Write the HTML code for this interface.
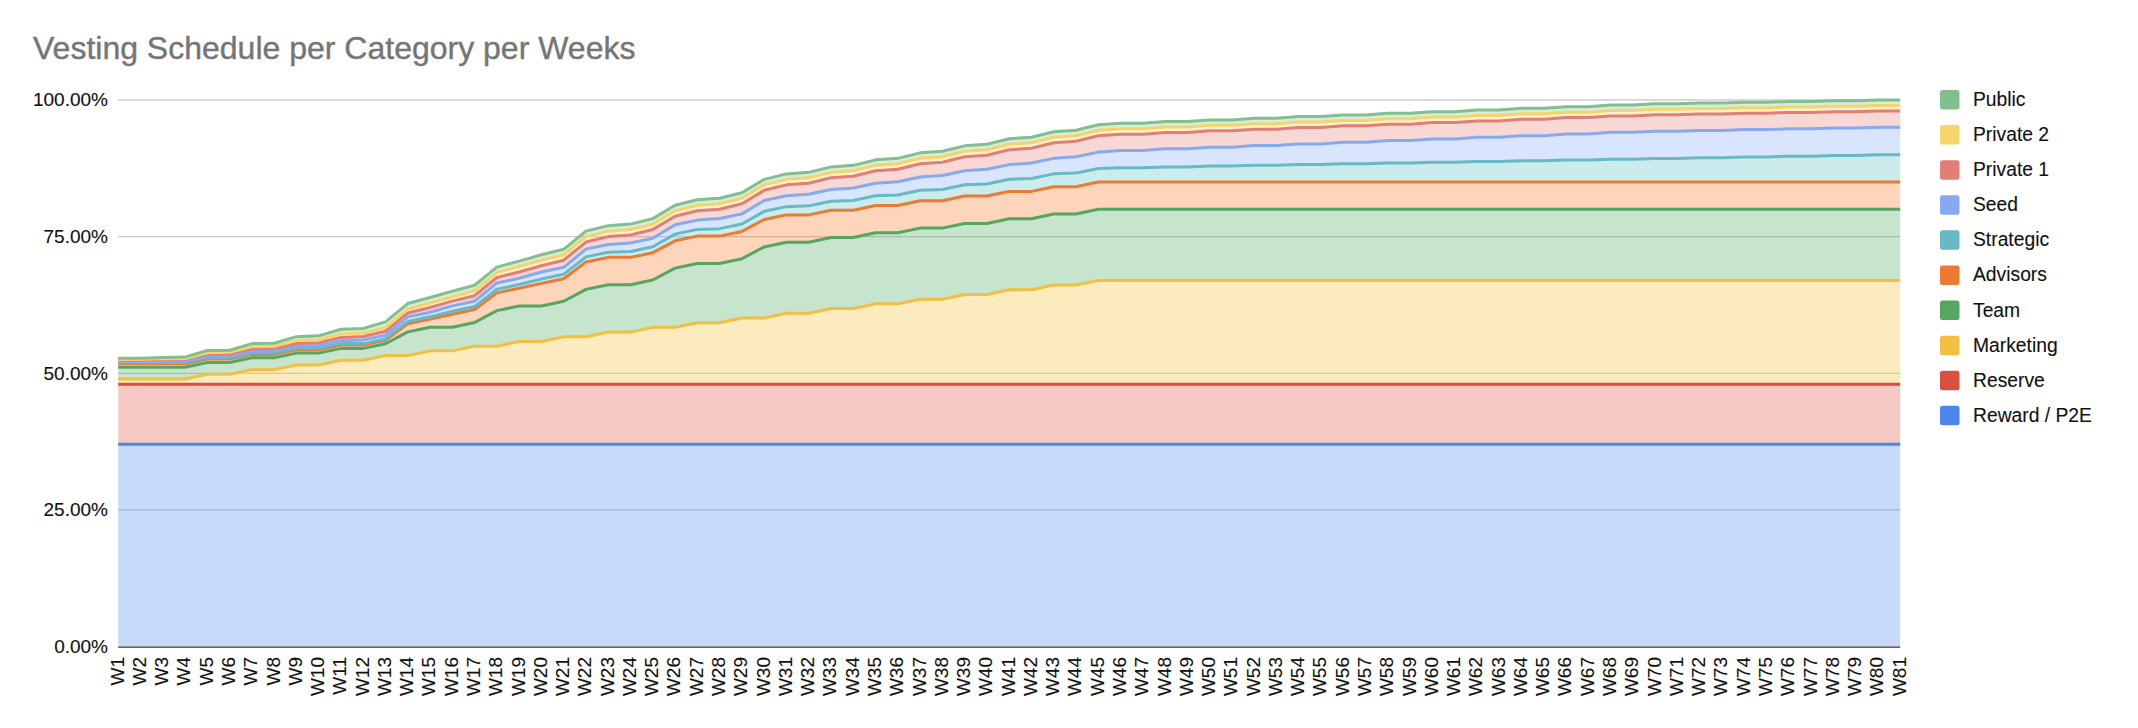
<!DOCTYPE html>
<html><head><meta charset="utf-8"><style>
html,body{margin:0;padding:0;background:#fff;}
body{width:2138px;height:728px;overflow:hidden;position:relative;font-family:"Liberation Sans",sans-serif;}
svg{position:absolute;left:0;top:0;}
.ax{font-family:"Liberation Sans",sans-serif;font-size:19px;fill:#111111;stroke:#111111;stroke-width:0.12px;}
.lg{font-family:"Liberation Sans",sans-serif;font-size:19.3px;fill:#111111;stroke:#111111;stroke-width:0.12px;}
.ttl{font-family:"Liberation Sans",sans-serif;font-size:32px;fill:#757575;stroke:#757575;stroke-width:0.4px;}
</style></head><body>
<svg width="2138" height="728" viewBox="0 0 2138 728">
<text x="33" y="59" class="ttl">Vesting Schedule per Category per Weeks</text>
<line x1="118.2" y1="509.95" x2="1900.2" y2="509.95" stroke="#cccccc" stroke-width="1.3"/>
<line x1="118.2" y1="373.30" x2="1900.2" y2="373.30" stroke="#cccccc" stroke-width="1.3"/>
<line x1="118.2" y1="236.65" x2="1900.2" y2="236.65" stroke="#cccccc" stroke-width="1.3"/>
<line x1="118.2" y1="100.00" x2="1900.2" y2="100.00" stroke="#cccccc" stroke-width="1.3"/>
<path d="M118.20,444.36 L140.47,444.36 L162.75,444.36 L185.03,444.36 L207.30,444.36 L229.57,444.36 L251.85,444.36 L274.12,444.36 L296.40,444.36 L318.68,444.36 L340.95,444.36 L363.23,444.36 L385.50,444.36 L407.77,444.36 L430.05,444.36 L452.32,444.36 L474.60,444.36 L496.88,444.36 L519.15,444.36 L541.43,444.36 L563.70,444.36 L585.98,444.36 L608.25,444.36 L630.53,444.36 L652.80,444.36 L675.08,444.36 L697.35,444.36 L719.62,444.36 L741.90,444.36 L764.18,444.36 L786.45,444.36 L808.73,444.36 L831.00,444.36 L853.28,444.36 L875.55,444.36 L897.83,444.36 L920.10,444.36 L942.38,444.36 L964.65,444.36 L986.93,444.36 L1009.20,444.36 L1031.47,444.36 L1053.75,444.36 L1076.03,444.36 L1098.30,444.36 L1120.58,444.36 L1142.85,444.36 L1165.12,444.36 L1187.40,444.36 L1209.67,444.36 L1231.95,444.36 L1254.23,444.36 L1276.50,444.36 L1298.78,444.36 L1321.05,444.36 L1343.33,444.36 L1365.60,444.36 L1387.88,444.36 L1410.15,444.36 L1432.42,444.36 L1454.70,444.36 L1476.98,444.36 L1499.25,444.36 L1521.53,444.36 L1543.80,444.36 L1566.08,444.36 L1588.35,444.36 L1610.62,444.36 L1632.90,444.36 L1655.17,444.36 L1677.45,444.36 L1699.73,444.36 L1722.00,444.36 L1744.28,444.36 L1766.55,444.36 L1788.83,444.36 L1811.10,444.36 L1833.38,444.36 L1855.65,444.36 L1877.92,444.36 L1900.20,444.36 L1900.20,646.60 L1877.92,646.60 L1855.65,646.60 L1833.38,646.60 L1811.10,646.60 L1788.83,646.60 L1766.55,646.60 L1744.28,646.60 L1722.00,646.60 L1699.73,646.60 L1677.45,646.60 L1655.17,646.60 L1632.90,646.60 L1610.62,646.60 L1588.35,646.60 L1566.08,646.60 L1543.80,646.60 L1521.53,646.60 L1499.25,646.60 L1476.98,646.60 L1454.70,646.60 L1432.42,646.60 L1410.15,646.60 L1387.88,646.60 L1365.60,646.60 L1343.33,646.60 L1321.05,646.60 L1298.78,646.60 L1276.50,646.60 L1254.23,646.60 L1231.95,646.60 L1209.67,646.60 L1187.40,646.60 L1165.12,646.60 L1142.85,646.60 L1120.58,646.60 L1098.30,646.60 L1076.03,646.60 L1053.75,646.60 L1031.47,646.60 L1009.20,646.60 L986.93,646.60 L964.65,646.60 L942.38,646.60 L920.10,646.60 L897.83,646.60 L875.55,646.60 L853.28,646.60 L831.00,646.60 L808.73,646.60 L786.45,646.60 L764.18,646.60 L741.90,646.60 L719.62,646.60 L697.35,646.60 L675.08,646.60 L652.80,646.60 L630.53,646.60 L608.25,646.60 L585.98,646.60 L563.70,646.60 L541.43,646.60 L519.15,646.60 L496.88,646.60 L474.60,646.60 L452.32,646.60 L430.05,646.60 L407.77,646.60 L385.50,646.60 L363.23,646.60 L340.95,646.60 L318.68,646.60 L296.40,646.60 L274.12,646.60 L251.85,646.60 L229.57,646.60 L207.30,646.60 L185.03,646.60 L162.75,646.60 L140.47,646.60 L118.20,646.60 Z" fill="#4884ef" fill-opacity="0.3"/>
<path d="M118.20,384.23 L140.47,384.23 L162.75,384.23 L185.03,384.23 L207.30,384.23 L229.57,384.23 L251.85,384.23 L274.12,384.23 L296.40,384.23 L318.68,384.23 L340.95,384.23 L363.23,384.23 L385.50,384.23 L407.77,384.23 L430.05,384.23 L452.32,384.23 L474.60,384.23 L496.88,384.23 L519.15,384.23 L541.43,384.23 L563.70,384.23 L585.98,384.23 L608.25,384.23 L630.53,384.23 L652.80,384.23 L675.08,384.23 L697.35,384.23 L719.62,384.23 L741.90,384.23 L764.18,384.23 L786.45,384.23 L808.73,384.23 L831.00,384.23 L853.28,384.23 L875.55,384.23 L897.83,384.23 L920.10,384.23 L942.38,384.23 L964.65,384.23 L986.93,384.23 L1009.20,384.23 L1031.47,384.23 L1053.75,384.23 L1076.03,384.23 L1098.30,384.23 L1120.58,384.23 L1142.85,384.23 L1165.12,384.23 L1187.40,384.23 L1209.67,384.23 L1231.95,384.23 L1254.23,384.23 L1276.50,384.23 L1298.78,384.23 L1321.05,384.23 L1343.33,384.23 L1365.60,384.23 L1387.88,384.23 L1410.15,384.23 L1432.42,384.23 L1454.70,384.23 L1476.98,384.23 L1499.25,384.23 L1521.53,384.23 L1543.80,384.23 L1566.08,384.23 L1588.35,384.23 L1610.62,384.23 L1632.90,384.23 L1655.17,384.23 L1677.45,384.23 L1699.73,384.23 L1722.00,384.23 L1744.28,384.23 L1766.55,384.23 L1788.83,384.23 L1811.10,384.23 L1833.38,384.23 L1855.65,384.23 L1877.92,384.23 L1900.20,384.23 L1900.20,444.36 L1877.92,444.36 L1855.65,444.36 L1833.38,444.36 L1811.10,444.36 L1788.83,444.36 L1766.55,444.36 L1744.28,444.36 L1722.00,444.36 L1699.73,444.36 L1677.45,444.36 L1655.17,444.36 L1632.90,444.36 L1610.62,444.36 L1588.35,444.36 L1566.08,444.36 L1543.80,444.36 L1521.53,444.36 L1499.25,444.36 L1476.98,444.36 L1454.70,444.36 L1432.42,444.36 L1410.15,444.36 L1387.88,444.36 L1365.60,444.36 L1343.33,444.36 L1321.05,444.36 L1298.78,444.36 L1276.50,444.36 L1254.23,444.36 L1231.95,444.36 L1209.67,444.36 L1187.40,444.36 L1165.12,444.36 L1142.85,444.36 L1120.58,444.36 L1098.30,444.36 L1076.03,444.36 L1053.75,444.36 L1031.47,444.36 L1009.20,444.36 L986.93,444.36 L964.65,444.36 L942.38,444.36 L920.10,444.36 L897.83,444.36 L875.55,444.36 L853.28,444.36 L831.00,444.36 L808.73,444.36 L786.45,444.36 L764.18,444.36 L741.90,444.36 L719.62,444.36 L697.35,444.36 L675.08,444.36 L652.80,444.36 L630.53,444.36 L608.25,444.36 L585.98,444.36 L563.70,444.36 L541.43,444.36 L519.15,444.36 L496.88,444.36 L474.60,444.36 L452.32,444.36 L430.05,444.36 L407.77,444.36 L385.50,444.36 L363.23,444.36 L340.95,444.36 L318.68,444.36 L296.40,444.36 L274.12,444.36 L251.85,444.36 L229.57,444.36 L207.30,444.36 L185.03,444.36 L162.75,444.36 L140.47,444.36 L118.20,444.36 Z" fill="#e14a3a" fill-opacity="0.3"/>
<path d="M118.20,379.04 L140.47,379.04 L162.75,379.04 L185.03,379.04 L207.30,374.34 L229.57,374.34 L251.85,369.64 L274.12,369.64 L296.40,364.94 L318.68,364.94 L340.95,360.25 L363.23,360.25 L385.50,355.55 L407.77,355.55 L430.05,350.85 L452.32,350.85 L474.60,346.15 L496.88,346.15 L519.15,341.45 L541.43,341.45 L563.70,336.76 L585.98,336.76 L608.25,332.06 L630.53,332.06 L652.80,327.36 L675.08,327.36 L697.35,322.66 L719.62,322.66 L741.90,317.96 L764.18,317.96 L786.45,313.27 L808.73,313.27 L831.00,308.57 L853.28,308.57 L875.55,303.87 L897.83,303.87 L920.10,299.17 L942.38,299.17 L964.65,294.47 L986.93,294.47 L1009.20,289.77 L1031.47,289.77 L1053.75,285.08 L1076.03,285.08 L1098.30,280.38 L1120.58,280.38 L1142.85,280.38 L1165.12,280.38 L1187.40,280.38 L1209.67,280.38 L1231.95,280.38 L1254.23,280.38 L1276.50,280.38 L1298.78,280.38 L1321.05,280.38 L1343.33,280.38 L1365.60,280.38 L1387.88,280.38 L1410.15,280.38 L1432.42,280.38 L1454.70,280.38 L1476.98,280.38 L1499.25,280.38 L1521.53,280.38 L1543.80,280.38 L1566.08,280.38 L1588.35,280.38 L1610.62,280.38 L1632.90,280.38 L1655.17,280.38 L1677.45,280.38 L1699.73,280.38 L1722.00,280.38 L1744.28,280.38 L1766.55,280.38 L1788.83,280.38 L1811.10,280.38 L1833.38,280.38 L1855.65,280.38 L1877.92,280.38 L1900.20,280.38 L1900.20,384.23 L1877.92,384.23 L1855.65,384.23 L1833.38,384.23 L1811.10,384.23 L1788.83,384.23 L1766.55,384.23 L1744.28,384.23 L1722.00,384.23 L1699.73,384.23 L1677.45,384.23 L1655.17,384.23 L1632.90,384.23 L1610.62,384.23 L1588.35,384.23 L1566.08,384.23 L1543.80,384.23 L1521.53,384.23 L1499.25,384.23 L1476.98,384.23 L1454.70,384.23 L1432.42,384.23 L1410.15,384.23 L1387.88,384.23 L1365.60,384.23 L1343.33,384.23 L1321.05,384.23 L1298.78,384.23 L1276.50,384.23 L1254.23,384.23 L1231.95,384.23 L1209.67,384.23 L1187.40,384.23 L1165.12,384.23 L1142.85,384.23 L1120.58,384.23 L1098.30,384.23 L1076.03,384.23 L1053.75,384.23 L1031.47,384.23 L1009.20,384.23 L986.93,384.23 L964.65,384.23 L942.38,384.23 L920.10,384.23 L897.83,384.23 L875.55,384.23 L853.28,384.23 L831.00,384.23 L808.73,384.23 L786.45,384.23 L764.18,384.23 L741.90,384.23 L719.62,384.23 L697.35,384.23 L675.08,384.23 L652.80,384.23 L630.53,384.23 L608.25,384.23 L585.98,384.23 L563.70,384.23 L541.43,384.23 L519.15,384.23 L496.88,384.23 L474.60,384.23 L452.32,384.23 L430.05,384.23 L407.77,384.23 L385.50,384.23 L363.23,384.23 L340.95,384.23 L318.68,384.23 L296.40,384.23 L274.12,384.23 L251.85,384.23 L229.57,384.23 L207.30,384.23 L185.03,384.23 L162.75,384.23 L140.47,384.23 L118.20,384.23 Z" fill="#f6be23" fill-opacity="0.3"/>
<path d="M118.20,367.20 L140.47,367.20 L162.75,367.20 L185.03,367.20 L207.30,362.50 L229.57,362.50 L251.85,357.80 L274.12,357.80 L296.40,353.10 L318.68,353.10 L340.95,348.40 L363.23,348.40 L385.50,343.71 L407.77,331.86 L430.05,327.16 L452.32,327.16 L474.60,322.47 L496.88,310.62 L519.15,305.93 L541.43,305.93 L563.70,301.23 L585.98,289.38 L608.25,284.69 L630.53,284.69 L652.80,279.99 L675.08,268.14 L697.35,263.45 L719.62,263.45 L741.90,258.75 L764.18,246.91 L786.45,242.21 L808.73,242.21 L831.00,237.51 L853.28,237.51 L875.55,232.81 L897.83,232.81 L920.10,228.11 L942.38,228.11 L964.65,223.41 L986.93,223.41 L1009.20,218.72 L1031.47,218.72 L1053.75,214.02 L1076.03,214.02 L1098.30,209.32 L1120.58,209.32 L1142.85,209.32 L1165.12,209.32 L1187.40,209.32 L1209.67,209.32 L1231.95,209.32 L1254.23,209.32 L1276.50,209.32 L1298.78,209.32 L1321.05,209.32 L1343.33,209.32 L1365.60,209.32 L1387.88,209.32 L1410.15,209.32 L1432.42,209.32 L1454.70,209.32 L1476.98,209.32 L1499.25,209.32 L1521.53,209.32 L1543.80,209.32 L1566.08,209.32 L1588.35,209.32 L1610.62,209.32 L1632.90,209.32 L1655.17,209.32 L1677.45,209.32 L1699.73,209.32 L1722.00,209.32 L1744.28,209.32 L1766.55,209.32 L1788.83,209.32 L1811.10,209.32 L1833.38,209.32 L1855.65,209.32 L1877.92,209.32 L1900.20,209.32 L1900.20,280.38 L1877.92,280.38 L1855.65,280.38 L1833.38,280.38 L1811.10,280.38 L1788.83,280.38 L1766.55,280.38 L1744.28,280.38 L1722.00,280.38 L1699.73,280.38 L1677.45,280.38 L1655.17,280.38 L1632.90,280.38 L1610.62,280.38 L1588.35,280.38 L1566.08,280.38 L1543.80,280.38 L1521.53,280.38 L1499.25,280.38 L1476.98,280.38 L1454.70,280.38 L1432.42,280.38 L1410.15,280.38 L1387.88,280.38 L1365.60,280.38 L1343.33,280.38 L1321.05,280.38 L1298.78,280.38 L1276.50,280.38 L1254.23,280.38 L1231.95,280.38 L1209.67,280.38 L1187.40,280.38 L1165.12,280.38 L1142.85,280.38 L1120.58,280.38 L1098.30,280.38 L1076.03,285.08 L1053.75,285.08 L1031.47,289.77 L1009.20,289.77 L986.93,294.47 L964.65,294.47 L942.38,299.17 L920.10,299.17 L897.83,303.87 L875.55,303.87 L853.28,308.57 L831.00,308.57 L808.73,313.27 L786.45,313.27 L764.18,317.96 L741.90,317.96 L719.62,322.66 L697.35,322.66 L675.08,327.36 L652.80,327.36 L630.53,332.06 L608.25,332.06 L585.98,336.76 L563.70,336.76 L541.43,341.45 L519.15,341.45 L496.88,346.15 L474.60,346.15 L452.32,350.85 L430.05,350.85 L407.77,355.55 L385.50,355.55 L363.23,360.25 L340.95,360.25 L318.68,364.94 L296.40,364.94 L274.12,369.64 L251.85,369.64 L229.57,374.34 L207.30,374.34 L185.03,379.04 L162.75,379.04 L140.47,379.04 L118.20,379.04 Z" fill="#45a65a" fill-opacity="0.3"/>
<path d="M118.20,363.78 L140.47,363.78 L162.75,363.78 L185.03,363.78 L207.30,359.08 L229.57,359.08 L251.85,354.38 L274.12,354.38 L296.40,349.69 L318.68,349.69 L340.95,344.99 L363.23,344.99 L385.50,340.29 L407.77,323.66 L430.05,318.97 L452.32,314.18 L474.60,309.48 L496.88,292.86 L519.15,288.16 L541.43,283.38 L563.70,278.68 L585.98,262.05 L608.25,257.36 L630.53,257.36 L652.80,252.66 L675.08,240.81 L697.35,236.12 L719.62,236.12 L741.90,231.42 L764.18,219.58 L786.45,214.88 L808.73,214.88 L831.00,210.18 L853.28,210.18 L875.55,205.48 L897.83,205.48 L920.10,200.78 L942.38,200.78 L964.65,196.08 L986.93,196.08 L1009.20,191.39 L1031.47,191.39 L1053.75,186.69 L1076.03,186.69 L1098.30,181.99 L1120.58,181.99 L1142.85,181.99 L1165.12,181.99 L1187.40,181.99 L1209.67,181.99 L1231.95,181.99 L1254.23,181.99 L1276.50,181.99 L1298.78,181.99 L1321.05,181.99 L1343.33,181.99 L1365.60,181.99 L1387.88,181.99 L1410.15,181.99 L1432.42,181.99 L1454.70,181.99 L1476.98,181.99 L1499.25,181.99 L1521.53,181.99 L1543.80,181.99 L1566.08,181.99 L1588.35,181.99 L1610.62,181.99 L1632.90,181.99 L1655.17,181.99 L1677.45,181.99 L1699.73,181.99 L1722.00,181.99 L1744.28,181.99 L1766.55,181.99 L1788.83,181.99 L1811.10,181.99 L1833.38,181.99 L1855.65,181.99 L1877.92,181.99 L1900.20,181.99 L1900.20,209.32 L1877.92,209.32 L1855.65,209.32 L1833.38,209.32 L1811.10,209.32 L1788.83,209.32 L1766.55,209.32 L1744.28,209.32 L1722.00,209.32 L1699.73,209.32 L1677.45,209.32 L1655.17,209.32 L1632.90,209.32 L1610.62,209.32 L1588.35,209.32 L1566.08,209.32 L1543.80,209.32 L1521.53,209.32 L1499.25,209.32 L1476.98,209.32 L1454.70,209.32 L1432.42,209.32 L1410.15,209.32 L1387.88,209.32 L1365.60,209.32 L1343.33,209.32 L1321.05,209.32 L1298.78,209.32 L1276.50,209.32 L1254.23,209.32 L1231.95,209.32 L1209.67,209.32 L1187.40,209.32 L1165.12,209.32 L1142.85,209.32 L1120.58,209.32 L1098.30,209.32 L1076.03,214.02 L1053.75,214.02 L1031.47,218.72 L1009.20,218.72 L986.93,223.41 L964.65,223.41 L942.38,228.11 L920.10,228.11 L897.83,232.81 L875.55,232.81 L853.28,237.51 L831.00,237.51 L808.73,242.21 L786.45,242.21 L764.18,246.91 L741.90,258.75 L719.62,263.45 L697.35,263.45 L675.08,268.14 L652.80,279.99 L630.53,284.69 L608.25,284.69 L585.98,289.38 L563.70,301.23 L541.43,305.93 L519.15,305.93 L496.88,310.62 L474.60,322.47 L452.32,327.16 L430.05,327.16 L407.77,331.86 L385.50,343.71 L363.23,348.40 L340.95,348.40 L318.68,353.10 L296.40,353.10 L274.12,357.80 L251.85,357.80 L229.57,362.50 L207.30,362.50 L185.03,367.20 L162.75,367.20 L140.47,367.20 L118.20,367.20 Z" fill="#f6741a" fill-opacity="0.3"/>
<path d="M118.20,362.41 L140.47,362.41 L162.75,362.41 L185.03,362.41 L207.30,357.72 L229.57,357.72 L251.85,353.02 L274.12,353.02 L296.40,348.32 L318.68,348.32 L340.95,343.62 L363.23,343.62 L385.50,338.92 L407.77,321.53 L430.05,316.84 L452.32,311.29 L474.60,306.59 L496.88,289.20 L519.15,284.50 L541.43,278.96 L563.70,274.26 L585.98,256.87 L608.25,252.17 L630.53,251.41 L652.80,246.71 L675.08,234.10 L697.35,229.40 L719.62,228.64 L741.90,223.94 L764.18,211.34 L786.45,206.64 L808.73,205.87 L831.00,201.18 L853.28,200.41 L875.55,195.71 L897.83,194.95 L920.10,190.25 L942.38,189.49 L964.65,184.79 L986.93,184.03 L1009.20,179.33 L1031.47,178.57 L1053.75,173.87 L1076.03,173.10 L1098.30,168.41 L1120.58,167.64 L1142.85,167.64 L1165.12,166.88 L1187.40,166.88 L1209.67,166.11 L1231.95,166.11 L1254.23,165.35 L1276.50,165.35 L1298.78,164.59 L1321.05,164.59 L1343.33,163.82 L1365.60,163.82 L1387.88,163.06 L1410.15,163.06 L1432.42,162.30 L1454.70,162.30 L1476.98,161.53 L1499.25,161.53 L1521.53,160.77 L1543.80,160.77 L1566.08,160.01 L1588.35,160.01 L1610.62,159.24 L1632.90,159.24 L1655.17,158.48 L1677.45,158.48 L1699.73,157.71 L1722.00,157.71 L1744.28,156.95 L1766.55,156.95 L1788.83,156.19 L1811.10,156.19 L1833.38,155.42 L1855.65,155.42 L1877.92,154.66 L1900.20,154.66 L1900.20,181.99 L1877.92,181.99 L1855.65,181.99 L1833.38,181.99 L1811.10,181.99 L1788.83,181.99 L1766.55,181.99 L1744.28,181.99 L1722.00,181.99 L1699.73,181.99 L1677.45,181.99 L1655.17,181.99 L1632.90,181.99 L1610.62,181.99 L1588.35,181.99 L1566.08,181.99 L1543.80,181.99 L1521.53,181.99 L1499.25,181.99 L1476.98,181.99 L1454.70,181.99 L1432.42,181.99 L1410.15,181.99 L1387.88,181.99 L1365.60,181.99 L1343.33,181.99 L1321.05,181.99 L1298.78,181.99 L1276.50,181.99 L1254.23,181.99 L1231.95,181.99 L1209.67,181.99 L1187.40,181.99 L1165.12,181.99 L1142.85,181.99 L1120.58,181.99 L1098.30,181.99 L1076.03,186.69 L1053.75,186.69 L1031.47,191.39 L1009.20,191.39 L986.93,196.08 L964.65,196.08 L942.38,200.78 L920.10,200.78 L897.83,205.48 L875.55,205.48 L853.28,210.18 L831.00,210.18 L808.73,214.88 L786.45,214.88 L764.18,219.58 L741.90,231.42 L719.62,236.12 L697.35,236.12 L675.08,240.81 L652.80,252.66 L630.53,257.36 L608.25,257.36 L585.98,262.05 L563.70,278.68 L541.43,283.38 L519.15,288.16 L496.88,292.86 L474.60,309.48 L452.32,314.18 L430.05,318.97 L407.77,323.66 L385.50,340.29 L363.23,344.99 L340.95,344.99 L318.68,349.69 L296.40,349.69 L274.12,354.38 L251.85,354.38 L229.57,359.08 L207.30,359.08 L185.03,363.78 L162.75,363.78 L140.47,363.78 L118.20,363.78 Z" fill="#56bcc5" fill-opacity="0.3"/>
<path d="M118.20,361.59 L140.47,361.41 L162.75,361.41 L185.03,361.05 L207.30,356.36 L229.57,356.00 L251.85,351.30 L274.12,350.94 L296.40,346.24 L318.68,345.42 L340.95,340.72 L363.23,339.90 L385.50,335.21 L407.77,316.89 L430.05,312.19 L452.32,305.87 L474.60,301.17 L496.88,283.00 L519.15,278.31 L541.43,271.98 L563.70,267.29 L585.98,249.12 L608.25,244.42 L630.53,242.88 L652.80,238.18 L675.08,224.80 L697.35,220.10 L719.62,218.56 L741.90,213.87 L764.18,200.48 L786.45,195.79 L808.73,194.25 L831.00,189.55 L853.28,188.01 L875.55,183.31 L897.83,181.77 L920.10,177.07 L942.38,175.53 L964.65,170.83 L986.93,169.30 L1009.20,164.60 L1031.47,163.06 L1053.75,158.36 L1076.03,156.82 L1098.30,152.12 L1120.58,150.53 L1142.85,150.53 L1165.12,148.87 L1187.40,148.87 L1209.67,147.22 L1231.95,147.22 L1254.23,145.57 L1276.50,145.57 L1298.78,143.92 L1321.05,143.92 L1343.33,142.27 L1365.60,142.27 L1387.88,140.62 L1410.15,140.62 L1432.42,138.96 L1454.70,138.96 L1476.98,137.31 L1499.25,137.31 L1521.53,135.66 L1543.80,135.66 L1566.08,134.01 L1588.35,134.01 L1610.62,132.36 L1632.90,132.36 L1655.17,131.15 L1677.45,131.15 L1699.73,130.38 L1722.00,130.38 L1744.28,129.62 L1766.55,129.62 L1788.83,128.86 L1811.10,128.86 L1833.38,128.09 L1855.65,128.09 L1877.92,127.33 L1900.20,127.33 L1900.20,154.66 L1877.92,154.66 L1855.65,155.42 L1833.38,155.42 L1811.10,156.19 L1788.83,156.19 L1766.55,156.95 L1744.28,156.95 L1722.00,157.71 L1699.73,157.71 L1677.45,158.48 L1655.17,158.48 L1632.90,159.24 L1610.62,159.24 L1588.35,160.01 L1566.08,160.01 L1543.80,160.77 L1521.53,160.77 L1499.25,161.53 L1476.98,161.53 L1454.70,162.30 L1432.42,162.30 L1410.15,163.06 L1387.88,163.06 L1365.60,163.82 L1343.33,163.82 L1321.05,164.59 L1298.78,164.59 L1276.50,165.35 L1254.23,165.35 L1231.95,166.11 L1209.67,166.11 L1187.40,166.88 L1165.12,166.88 L1142.85,167.64 L1120.58,167.64 L1098.30,168.41 L1076.03,173.10 L1053.75,173.87 L1031.47,178.57 L1009.20,179.33 L986.93,184.03 L964.65,184.79 L942.38,189.49 L920.10,190.25 L897.83,194.95 L875.55,195.71 L853.28,200.41 L831.00,201.18 L808.73,205.87 L786.45,206.64 L764.18,211.34 L741.90,223.94 L719.62,228.64 L697.35,229.40 L675.08,234.10 L652.80,246.71 L630.53,251.41 L608.25,252.17 L585.98,256.87 L563.70,274.26 L541.43,278.96 L519.15,284.50 L496.88,289.20 L474.60,306.59 L452.32,311.29 L430.05,316.84 L407.77,321.53 L385.50,338.92 L363.23,343.62 L340.95,343.62 L318.68,348.32 L296.40,348.32 L274.12,353.02 L251.85,353.02 L229.57,357.72 L207.30,357.72 L185.03,362.41 L162.75,362.41 L140.47,362.41 L118.20,362.41 Z" fill="#81a9f5" fill-opacity="0.3"/>
<path d="M118.20,359.95 L140.47,359.77 L162.75,359.50 L185.03,359.14 L207.30,354.17 L229.57,353.81 L251.85,348.84 L274.12,348.48 L296.40,343.51 L318.68,342.69 L340.95,337.39 L363.23,336.57 L385.50,331.27 L407.77,312.95 L430.05,307.47 L452.32,301.15 L474.60,295.68 L496.88,277.51 L519.15,272.03 L541.43,265.71 L563.70,260.23 L585.98,242.07 L608.25,236.59 L630.53,235.05 L652.80,229.58 L675.08,216.19 L697.35,210.72 L719.62,209.18 L741.90,203.70 L764.18,190.32 L786.45,184.84 L808.73,183.30 L831.00,177.82 L853.28,176.28 L875.55,170.81 L897.83,169.27 L920.10,163.79 L942.38,162.25 L964.65,156.77 L986.93,155.23 L1009.20,149.76 L1031.47,148.22 L1053.75,142.74 L1076.03,141.20 L1098.30,135.72 L1120.58,134.13 L1142.85,134.13 L1165.12,132.48 L1187.40,132.48 L1209.67,130.82 L1231.95,130.82 L1254.23,129.17 L1276.50,129.17 L1298.78,127.52 L1321.05,127.52 L1343.33,125.87 L1365.60,125.87 L1387.88,124.22 L1410.15,124.22 L1432.42,122.57 L1454.70,122.57 L1476.98,120.91 L1499.25,120.91 L1521.53,119.26 L1543.80,119.26 L1566.08,117.61 L1588.35,117.61 L1610.62,115.96 L1632.90,115.96 L1655.17,114.75 L1677.45,114.75 L1699.73,113.99 L1722.00,113.99 L1744.28,113.22 L1766.55,113.22 L1788.83,112.46 L1811.10,112.46 L1833.38,111.70 L1855.65,111.70 L1877.92,110.93 L1900.20,110.93 L1900.20,127.33 L1877.92,127.33 L1855.65,128.09 L1833.38,128.09 L1811.10,128.86 L1788.83,128.86 L1766.55,129.62 L1744.28,129.62 L1722.00,130.38 L1699.73,130.38 L1677.45,131.15 L1655.17,131.15 L1632.90,132.36 L1610.62,132.36 L1588.35,134.01 L1566.08,134.01 L1543.80,135.66 L1521.53,135.66 L1499.25,137.31 L1476.98,137.31 L1454.70,138.96 L1432.42,138.96 L1410.15,140.62 L1387.88,140.62 L1365.60,142.27 L1343.33,142.27 L1321.05,143.92 L1298.78,143.92 L1276.50,145.57 L1254.23,145.57 L1231.95,147.22 L1209.67,147.22 L1187.40,148.87 L1165.12,148.87 L1142.85,150.53 L1120.58,150.53 L1098.30,152.12 L1076.03,156.82 L1053.75,158.36 L1031.47,163.06 L1009.20,164.60 L986.93,169.30 L964.65,170.83 L942.38,175.53 L920.10,177.07 L897.83,181.77 L875.55,183.31 L853.28,188.01 L831.00,189.55 L808.73,194.25 L786.45,195.79 L764.18,200.48 L741.90,213.87 L719.62,218.56 L697.35,220.10 L675.08,224.80 L652.80,238.18 L630.53,242.88 L608.25,244.42 L585.98,249.12 L563.70,267.29 L541.43,271.98 L519.15,278.31 L496.88,283.00 L474.60,301.17 L452.32,305.87 L430.05,312.19 L407.77,316.89 L385.50,335.21 L363.23,339.90 L340.95,340.72 L318.68,345.42 L296.40,346.24 L274.12,350.94 L251.85,351.30 L229.57,356.00 L207.30,356.36 L185.03,361.05 L162.75,361.41 L140.47,361.41 L118.20,361.59 Z" fill="#e87d74" fill-opacity="0.3"/>
<path d="M118.20,359.41 L140.47,359.23 L162.75,358.85 L185.03,358.49 L207.30,352.73 L229.57,352.37 L251.85,346.62 L274.12,346.26 L296.40,340.50 L318.68,339.68 L340.95,333.92 L363.23,333.10 L385.50,327.33 L407.77,309.02 L430.05,303.03 L452.32,296.71 L474.60,290.72 L496.88,272.55 L519.15,266.57 L541.43,260.24 L563.70,254.77 L585.98,236.60 L608.25,231.13 L630.53,229.59 L652.80,224.11 L675.08,210.73 L697.35,205.25 L719.62,203.71 L741.90,198.23 L764.18,184.85 L786.45,179.37 L808.73,177.83 L831.00,172.36 L853.28,170.82 L875.55,165.34 L897.83,163.80 L920.10,158.32 L942.38,156.78 L964.65,151.31 L986.93,149.77 L1009.20,144.29 L1031.47,142.75 L1053.75,137.27 L1076.03,135.74 L1098.30,130.26 L1120.58,128.66 L1142.85,128.66 L1165.12,127.01 L1187.40,127.01 L1209.67,125.36 L1231.95,125.36 L1254.23,123.71 L1276.50,123.71 L1298.78,122.05 L1321.05,122.05 L1343.33,120.40 L1365.60,120.40 L1387.88,118.75 L1410.15,118.75 L1432.42,117.10 L1454.70,117.10 L1476.98,115.45 L1499.25,115.45 L1521.53,113.80 L1543.80,113.80 L1566.08,112.14 L1588.35,112.14 L1610.62,110.49 L1632.90,110.49 L1655.17,109.28 L1677.45,109.28 L1699.73,108.52 L1722.00,108.52 L1744.28,107.76 L1766.55,107.76 L1788.83,106.99 L1811.10,106.99 L1833.38,106.23 L1855.65,106.23 L1877.92,105.47 L1900.20,105.47 L1900.20,110.93 L1877.92,110.93 L1855.65,111.70 L1833.38,111.70 L1811.10,112.46 L1788.83,112.46 L1766.55,113.22 L1744.28,113.22 L1722.00,113.99 L1699.73,113.99 L1677.45,114.75 L1655.17,114.75 L1632.90,115.96 L1610.62,115.96 L1588.35,117.61 L1566.08,117.61 L1543.80,119.26 L1521.53,119.26 L1499.25,120.91 L1476.98,120.91 L1454.70,122.57 L1432.42,122.57 L1410.15,124.22 L1387.88,124.22 L1365.60,125.87 L1343.33,125.87 L1321.05,127.52 L1298.78,127.52 L1276.50,129.17 L1254.23,129.17 L1231.95,130.82 L1209.67,130.82 L1187.40,132.48 L1165.12,132.48 L1142.85,134.13 L1120.58,134.13 L1098.30,135.72 L1076.03,141.20 L1053.75,142.74 L1031.47,148.22 L1009.20,149.76 L986.93,155.23 L964.65,156.77 L942.38,162.25 L920.10,163.79 L897.83,169.27 L875.55,170.81 L853.28,176.28 L831.00,177.82 L808.73,183.30 L786.45,184.84 L764.18,190.32 L741.90,203.70 L719.62,209.18 L697.35,210.72 L675.08,216.19 L652.80,229.58 L630.53,235.05 L608.25,236.59 L585.98,242.07 L563.70,260.23 L541.43,265.71 L519.15,272.03 L496.88,277.51 L474.60,295.68 L452.32,301.15 L430.05,307.47 L407.77,312.95 L385.50,331.27 L363.23,336.57 L340.95,337.39 L318.68,342.69 L296.40,343.51 L274.12,348.48 L251.85,348.84 L229.57,353.81 L207.30,354.17 L185.03,359.14 L162.75,359.50 L140.47,359.77 L118.20,359.95 Z" fill="#f9d25e" fill-opacity="0.3"/>
<path d="M118.20,358.31 L140.47,358.13 L162.75,357.48 L185.03,357.12 L207.30,350.54 L229.57,350.19 L251.85,343.61 L274.12,343.25 L296.40,336.68 L318.68,335.86 L340.95,329.27 L363.23,328.45 L385.50,321.87 L407.77,303.55 L430.05,297.56 L452.32,291.24 L474.60,285.25 L496.88,267.09 L519.15,261.10 L541.43,254.78 L563.70,249.30 L585.98,231.14 L608.25,225.66 L630.53,224.12 L652.80,218.64 L675.08,205.26 L697.35,199.78 L719.62,198.24 L741.90,192.77 L764.18,179.38 L786.45,173.91 L808.73,172.37 L831.00,166.89 L853.28,165.35 L875.55,159.87 L897.83,158.34 L920.10,152.86 L942.38,151.32 L964.65,145.84 L986.93,144.30 L1009.20,138.83 L1031.47,137.29 L1053.75,131.81 L1076.03,130.27 L1098.30,124.79 L1120.58,123.20 L1142.85,123.20 L1165.12,121.54 L1187.40,121.54 L1209.67,119.89 L1231.95,119.89 L1254.23,118.24 L1276.50,118.24 L1298.78,116.59 L1321.05,116.59 L1343.33,114.94 L1365.60,114.94 L1387.88,113.29 L1410.15,113.29 L1432.42,111.63 L1454.70,111.63 L1476.98,109.98 L1499.25,109.98 L1521.53,108.33 L1543.80,108.33 L1566.08,106.68 L1588.35,106.68 L1610.62,105.03 L1632.90,105.03 L1655.17,103.82 L1677.45,103.82 L1699.73,103.05 L1722.00,103.05 L1744.28,102.29 L1766.55,102.29 L1788.83,101.53 L1811.10,101.53 L1833.38,100.76 L1855.65,100.76 L1877.92,100.00 L1900.20,100.00 L1900.20,105.47 L1877.92,105.47 L1855.65,106.23 L1833.38,106.23 L1811.10,106.99 L1788.83,106.99 L1766.55,107.76 L1744.28,107.76 L1722.00,108.52 L1699.73,108.52 L1677.45,109.28 L1655.17,109.28 L1632.90,110.49 L1610.62,110.49 L1588.35,112.14 L1566.08,112.14 L1543.80,113.80 L1521.53,113.80 L1499.25,115.45 L1476.98,115.45 L1454.70,117.10 L1432.42,117.10 L1410.15,118.75 L1387.88,118.75 L1365.60,120.40 L1343.33,120.40 L1321.05,122.05 L1298.78,122.05 L1276.50,123.71 L1254.23,123.71 L1231.95,125.36 L1209.67,125.36 L1187.40,127.01 L1165.12,127.01 L1142.85,128.66 L1120.58,128.66 L1098.30,130.26 L1076.03,135.74 L1053.75,137.27 L1031.47,142.75 L1009.20,144.29 L986.93,149.77 L964.65,151.31 L942.38,156.78 L920.10,158.32 L897.83,163.80 L875.55,165.34 L853.28,170.82 L831.00,172.36 L808.73,177.83 L786.45,179.37 L764.18,184.85 L741.90,198.23 L719.62,203.71 L697.35,205.25 L675.08,210.73 L652.80,224.11 L630.53,229.59 L608.25,231.13 L585.98,236.60 L563.70,254.77 L541.43,260.24 L519.15,266.57 L496.88,272.55 L474.60,290.72 L452.32,296.71 L430.05,303.03 L407.77,309.02 L385.50,327.33 L363.23,333.10 L340.95,333.92 L318.68,339.68 L296.40,340.50 L274.12,346.26 L251.85,346.62 L229.57,352.37 L207.30,352.73 L185.03,358.49 L162.75,358.85 L140.47,359.23 L118.20,359.41 Z" fill="#7ac08a" fill-opacity="0.3"/>
<polyline points="118.20,444.36 140.47,444.36 162.75,444.36 185.03,444.36 207.30,444.36 229.57,444.36 251.85,444.36 274.12,444.36 296.40,444.36 318.68,444.36 340.95,444.36 363.23,444.36 385.50,444.36 407.77,444.36 430.05,444.36 452.32,444.36 474.60,444.36 496.88,444.36 519.15,444.36 541.43,444.36 563.70,444.36 585.98,444.36 608.25,444.36 630.53,444.36 652.80,444.36 675.08,444.36 697.35,444.36 719.62,444.36 741.90,444.36 764.18,444.36 786.45,444.36 808.73,444.36 831.00,444.36 853.28,444.36 875.55,444.36 897.83,444.36 920.10,444.36 942.38,444.36 964.65,444.36 986.93,444.36 1009.20,444.36 1031.47,444.36 1053.75,444.36 1076.03,444.36 1098.30,444.36 1120.58,444.36 1142.85,444.36 1165.12,444.36 1187.40,444.36 1209.67,444.36 1231.95,444.36 1254.23,444.36 1276.50,444.36 1298.78,444.36 1321.05,444.36 1343.33,444.36 1365.60,444.36 1387.88,444.36 1410.15,444.36 1432.42,444.36 1454.70,444.36 1476.98,444.36 1499.25,444.36 1521.53,444.36 1543.80,444.36 1566.08,444.36 1588.35,444.36 1610.62,444.36 1632.90,444.36 1655.17,444.36 1677.45,444.36 1699.73,444.36 1722.00,444.36 1744.28,444.36 1766.55,444.36 1788.83,444.36 1811.10,444.36 1833.38,444.36 1855.65,444.36 1877.92,444.36 1900.20,444.36" fill="none" stroke="#4f84ea" stroke-width="3" stroke-linejoin="round"/>
<polyline points="118.20,384.23 140.47,384.23 162.75,384.23 185.03,384.23 207.30,384.23 229.57,384.23 251.85,384.23 274.12,384.23 296.40,384.23 318.68,384.23 340.95,384.23 363.23,384.23 385.50,384.23 407.77,384.23 430.05,384.23 452.32,384.23 474.60,384.23 496.88,384.23 519.15,384.23 541.43,384.23 563.70,384.23 585.98,384.23 608.25,384.23 630.53,384.23 652.80,384.23 675.08,384.23 697.35,384.23 719.62,384.23 741.90,384.23 764.18,384.23 786.45,384.23 808.73,384.23 831.00,384.23 853.28,384.23 875.55,384.23 897.83,384.23 920.10,384.23 942.38,384.23 964.65,384.23 986.93,384.23 1009.20,384.23 1031.47,384.23 1053.75,384.23 1076.03,384.23 1098.30,384.23 1120.58,384.23 1142.85,384.23 1165.12,384.23 1187.40,384.23 1209.67,384.23 1231.95,384.23 1254.23,384.23 1276.50,384.23 1298.78,384.23 1321.05,384.23 1343.33,384.23 1365.60,384.23 1387.88,384.23 1410.15,384.23 1432.42,384.23 1454.70,384.23 1476.98,384.23 1499.25,384.23 1521.53,384.23 1543.80,384.23 1566.08,384.23 1588.35,384.23 1610.62,384.23 1632.90,384.23 1655.17,384.23 1677.45,384.23 1699.73,384.23 1722.00,384.23 1744.28,384.23 1766.55,384.23 1788.83,384.23 1811.10,384.23 1833.38,384.23 1855.65,384.23 1877.92,384.23 1900.20,384.23" fill="none" stroke="#d8503f" stroke-width="3" stroke-linejoin="round"/>
<polyline points="118.20,379.04 140.47,379.04 162.75,379.04 185.03,379.04 207.30,374.34 229.57,374.34 251.85,369.64 274.12,369.64 296.40,364.94 318.68,364.94 340.95,360.25 363.23,360.25 385.50,355.55 407.77,355.55 430.05,350.85 452.32,350.85 474.60,346.15 496.88,346.15 519.15,341.45 541.43,341.45 563.70,336.76 585.98,336.76 608.25,332.06 630.53,332.06 652.80,327.36 675.08,327.36 697.35,322.66 719.62,322.66 741.90,317.96 764.18,317.96 786.45,313.27 808.73,313.27 831.00,308.57 853.28,308.57 875.55,303.87 897.83,303.87 920.10,299.17 942.38,299.17 964.65,294.47 986.93,294.47 1009.20,289.77 1031.47,289.77 1053.75,285.08 1076.03,285.08 1098.30,280.38 1120.58,280.38 1142.85,280.38 1165.12,280.38 1187.40,280.38 1209.67,280.38 1231.95,280.38 1254.23,280.38 1276.50,280.38 1298.78,280.38 1321.05,280.38 1343.33,280.38 1365.60,280.38 1387.88,280.38 1410.15,280.38 1432.42,280.38 1454.70,280.38 1476.98,280.38 1499.25,280.38 1521.53,280.38 1543.80,280.38 1566.08,280.38 1588.35,280.38 1610.62,280.38 1632.90,280.38 1655.17,280.38 1677.45,280.38 1699.73,280.38 1722.00,280.38 1744.28,280.38 1766.55,280.38 1788.83,280.38 1811.10,280.38 1833.38,280.38 1855.65,280.38 1877.92,280.38 1900.20,280.38" fill="none" stroke="#f2bf42" stroke-width="3" stroke-linejoin="round"/>
<polyline points="118.20,367.20 140.47,367.20 162.75,367.20 185.03,367.20 207.30,362.50 229.57,362.50 251.85,357.80 274.12,357.80 296.40,353.10 318.68,353.10 340.95,348.40 363.23,348.40 385.50,343.71 407.77,331.86 430.05,327.16 452.32,327.16 474.60,322.47 496.88,310.62 519.15,305.93 541.43,305.93 563.70,301.23 585.98,289.38 608.25,284.69 630.53,284.69 652.80,279.99 675.08,268.14 697.35,263.45 719.62,263.45 741.90,258.75 764.18,246.91 786.45,242.21 808.73,242.21 831.00,237.51 853.28,237.51 875.55,232.81 897.83,232.81 920.10,228.11 942.38,228.11 964.65,223.41 986.93,223.41 1009.20,218.72 1031.47,218.72 1053.75,214.02 1076.03,214.02 1098.30,209.32 1120.58,209.32 1142.85,209.32 1165.12,209.32 1187.40,209.32 1209.67,209.32 1231.95,209.32 1254.23,209.32 1276.50,209.32 1298.78,209.32 1321.05,209.32 1343.33,209.32 1365.60,209.32 1387.88,209.32 1410.15,209.32 1432.42,209.32 1454.70,209.32 1476.98,209.32 1499.25,209.32 1521.53,209.32 1543.80,209.32 1566.08,209.32 1588.35,209.32 1610.62,209.32 1632.90,209.32 1655.17,209.32 1677.45,209.32 1699.73,209.32 1722.00,209.32 1744.28,209.32 1766.55,209.32 1788.83,209.32 1811.10,209.32 1833.38,209.32 1855.65,209.32 1877.92,209.32 1900.20,209.32" fill="none" stroke="#56a561" stroke-width="3" stroke-linejoin="round"/>
<polyline points="118.20,363.78 140.47,363.78 162.75,363.78 185.03,363.78 207.30,359.08 229.57,359.08 251.85,354.38 274.12,354.38 296.40,349.69 318.68,349.69 340.95,344.99 363.23,344.99 385.50,340.29 407.77,323.66 430.05,318.97 452.32,314.18 474.60,309.48 496.88,292.86 519.15,288.16 541.43,283.38 563.70,278.68 585.98,262.05 608.25,257.36 630.53,257.36 652.80,252.66 675.08,240.81 697.35,236.12 719.62,236.12 741.90,231.42 764.18,219.58 786.45,214.88 808.73,214.88 831.00,210.18 853.28,210.18 875.55,205.48 897.83,205.48 920.10,200.78 942.38,200.78 964.65,196.08 986.93,196.08 1009.20,191.39 1031.47,191.39 1053.75,186.69 1076.03,186.69 1098.30,181.99 1120.58,181.99 1142.85,181.99 1165.12,181.99 1187.40,181.99 1209.67,181.99 1231.95,181.99 1254.23,181.99 1276.50,181.99 1298.78,181.99 1321.05,181.99 1343.33,181.99 1365.60,181.99 1387.88,181.99 1410.15,181.99 1432.42,181.99 1454.70,181.99 1476.98,181.99 1499.25,181.99 1521.53,181.99 1543.80,181.99 1566.08,181.99 1588.35,181.99 1610.62,181.99 1632.90,181.99 1655.17,181.99 1677.45,181.99 1699.73,181.99 1722.00,181.99 1744.28,181.99 1766.55,181.99 1788.83,181.99 1811.10,181.99 1833.38,181.99 1855.65,181.99 1877.92,181.99 1900.20,181.99" fill="none" stroke="#ec7a32" stroke-width="3" stroke-linejoin="round"/>
<polyline points="118.20,362.41 140.47,362.41 162.75,362.41 185.03,362.41 207.30,357.72 229.57,357.72 251.85,353.02 274.12,353.02 296.40,348.32 318.68,348.32 340.95,343.62 363.23,343.62 385.50,338.92 407.77,321.53 430.05,316.84 452.32,311.29 474.60,306.59 496.88,289.20 519.15,284.50 541.43,278.96 563.70,274.26 585.98,256.87 608.25,252.17 630.53,251.41 652.80,246.71 675.08,234.10 697.35,229.40 719.62,228.64 741.90,223.94 764.18,211.34 786.45,206.64 808.73,205.87 831.00,201.18 853.28,200.41 875.55,195.71 897.83,194.95 920.10,190.25 942.38,189.49 964.65,184.79 986.93,184.03 1009.20,179.33 1031.47,178.57 1053.75,173.87 1076.03,173.10 1098.30,168.41 1120.58,167.64 1142.85,167.64 1165.12,166.88 1187.40,166.88 1209.67,166.11 1231.95,166.11 1254.23,165.35 1276.50,165.35 1298.78,164.59 1321.05,164.59 1343.33,163.82 1365.60,163.82 1387.88,163.06 1410.15,163.06 1432.42,162.30 1454.70,162.30 1476.98,161.53 1499.25,161.53 1521.53,160.77 1543.80,160.77 1566.08,160.01 1588.35,160.01 1610.62,159.24 1632.90,159.24 1655.17,158.48 1677.45,158.48 1699.73,157.71 1722.00,157.71 1744.28,156.95 1766.55,156.95 1788.83,156.19 1811.10,156.19 1833.38,155.42 1855.65,155.42 1877.92,154.66 1900.20,154.66" fill="none" stroke="#67bac4" stroke-width="3" stroke-linejoin="round"/>
<polyline points="118.20,361.59 140.47,361.41 162.75,361.41 185.03,361.05 207.30,356.36 229.57,356.00 251.85,351.30 274.12,350.94 296.40,346.24 318.68,345.42 340.95,340.72 363.23,339.90 385.50,335.21 407.77,316.89 430.05,312.19 452.32,305.87 474.60,301.17 496.88,283.00 519.15,278.31 541.43,271.98 563.70,267.29 585.98,249.12 608.25,244.42 630.53,242.88 652.80,238.18 675.08,224.80 697.35,220.10 719.62,218.56 741.90,213.87 764.18,200.48 786.45,195.79 808.73,194.25 831.00,189.55 853.28,188.01 875.55,183.31 897.83,181.77 920.10,177.07 942.38,175.53 964.65,170.83 986.93,169.30 1009.20,164.60 1031.47,163.06 1053.75,158.36 1076.03,156.82 1098.30,152.12 1120.58,150.53 1142.85,150.53 1165.12,148.87 1187.40,148.87 1209.67,147.22 1231.95,147.22 1254.23,145.57 1276.50,145.57 1298.78,143.92 1321.05,143.92 1343.33,142.27 1365.60,142.27 1387.88,140.62 1410.15,140.62 1432.42,138.96 1454.70,138.96 1476.98,137.31 1499.25,137.31 1521.53,135.66 1543.80,135.66 1566.08,134.01 1588.35,134.01 1610.62,132.36 1632.90,132.36 1655.17,131.15 1677.45,131.15 1699.73,130.38 1722.00,130.38 1744.28,129.62 1766.55,129.62 1788.83,128.86 1811.10,128.86 1833.38,128.09 1855.65,128.09 1877.92,127.33 1900.20,127.33" fill="none" stroke="#87a8f3" stroke-width="3" stroke-linejoin="round"/>
<polyline points="118.20,359.95 140.47,359.77 162.75,359.50 185.03,359.14 207.30,354.17 229.57,353.81 251.85,348.84 274.12,348.48 296.40,343.51 318.68,342.69 340.95,337.39 363.23,336.57 385.50,331.27 407.77,312.95 430.05,307.47 452.32,301.15 474.60,295.68 496.88,277.51 519.15,272.03 541.43,265.71 563.70,260.23 585.98,242.07 608.25,236.59 630.53,235.05 652.80,229.58 675.08,216.19 697.35,210.72 719.62,209.18 741.90,203.70 764.18,190.32 786.45,184.84 808.73,183.30 831.00,177.82 853.28,176.28 875.55,170.81 897.83,169.27 920.10,163.79 942.38,162.25 964.65,156.77 986.93,155.23 1009.20,149.76 1031.47,148.22 1053.75,142.74 1076.03,141.20 1098.30,135.72 1120.58,134.13 1142.85,134.13 1165.12,132.48 1187.40,132.48 1209.67,130.82 1231.95,130.82 1254.23,129.17 1276.50,129.17 1298.78,127.52 1321.05,127.52 1343.33,125.87 1365.60,125.87 1387.88,124.22 1410.15,124.22 1432.42,122.57 1454.70,122.57 1476.98,120.91 1499.25,120.91 1521.53,119.26 1543.80,119.26 1566.08,117.61 1588.35,117.61 1610.62,115.96 1632.90,115.96 1655.17,114.75 1677.45,114.75 1699.73,113.99 1722.00,113.99 1744.28,113.22 1766.55,113.22 1788.83,112.46 1811.10,112.46 1833.38,111.70 1855.65,111.70 1877.92,110.93 1900.20,110.93" fill="none" stroke="#e17f77" stroke-width="3" stroke-linejoin="round"/>
<polyline points="118.20,359.41 140.47,359.23 162.75,358.85 185.03,358.49 207.30,352.73 229.57,352.37 251.85,346.62 274.12,346.26 296.40,340.50 318.68,339.68 340.95,333.92 363.23,333.10 385.50,327.33 407.77,309.02 430.05,303.03 452.32,296.71 474.60,290.72 496.88,272.55 519.15,266.57 541.43,260.24 563.70,254.77 585.98,236.60 608.25,231.13 630.53,229.59 652.80,224.11 675.08,210.73 697.35,205.25 719.62,203.71 741.90,198.23 764.18,184.85 786.45,179.37 808.73,177.83 831.00,172.36 853.28,170.82 875.55,165.34 897.83,163.80 920.10,158.32 942.38,156.78 964.65,151.31 986.93,149.77 1009.20,144.29 1031.47,142.75 1053.75,137.27 1076.03,135.74 1098.30,130.26 1120.58,128.66 1142.85,128.66 1165.12,127.01 1187.40,127.01 1209.67,125.36 1231.95,125.36 1254.23,123.71 1276.50,123.71 1298.78,122.05 1321.05,122.05 1343.33,120.40 1365.60,120.40 1387.88,118.75 1410.15,118.75 1432.42,117.10 1454.70,117.10 1476.98,115.45 1499.25,115.45 1521.53,113.80 1543.80,113.80 1566.08,112.14 1588.35,112.14 1610.62,110.49 1632.90,110.49 1655.17,109.28 1677.45,109.28 1699.73,108.52 1722.00,108.52 1744.28,107.76 1766.55,107.76 1788.83,106.99 1811.10,106.99 1833.38,106.23 1855.65,106.23 1877.92,105.47 1900.20,105.47" fill="none" stroke="#f6d46c" stroke-width="3" stroke-linejoin="round"/>
<polyline points="118.20,358.31 140.47,358.13 162.75,357.48 185.03,357.12 207.30,350.54 229.57,350.19 251.85,343.61 274.12,343.25 296.40,336.68 318.68,335.86 340.95,329.27 363.23,328.45 385.50,321.87 407.77,303.55 430.05,297.56 452.32,291.24 474.60,285.25 496.88,267.09 519.15,261.10 541.43,254.78 563.70,249.30 585.98,231.14 608.25,225.66 630.53,224.12 652.80,218.64 675.08,205.26 697.35,199.78 719.62,198.24 741.90,192.77 764.18,179.38 786.45,173.91 808.73,172.37 831.00,166.89 853.28,165.35 875.55,159.87 897.83,158.34 920.10,152.86 942.38,151.32 964.65,145.84 986.93,144.30 1009.20,138.83 1031.47,137.29 1053.75,131.81 1076.03,130.27 1098.30,124.79 1120.58,123.20 1142.85,123.20 1165.12,121.54 1187.40,121.54 1209.67,119.89 1231.95,119.89 1254.23,118.24 1276.50,118.24 1298.78,116.59 1321.05,116.59 1343.33,114.94 1365.60,114.94 1387.88,113.29 1410.15,113.29 1432.42,111.63 1454.70,111.63 1476.98,109.98 1499.25,109.98 1521.53,108.33 1543.80,108.33 1566.08,106.68 1588.35,106.68 1610.62,105.03 1632.90,105.03 1655.17,103.82 1677.45,103.82 1699.73,103.05 1722.00,103.05 1744.28,102.29 1766.55,102.29 1788.83,101.53 1811.10,101.53 1833.38,100.76 1855.65,100.76 1877.92,100.00 1900.20,100.00" fill="none" stroke="#82bf8e" stroke-width="3" stroke-linejoin="round"/>
<line x1="118.2" y1="647.2" x2="1900.2" y2="647.2" stroke="#333333" stroke-width="1.3"/>
<text x="108" y="652.80" text-anchor="end" class="ax">0.00%</text>
<text x="108" y="516.15" text-anchor="end" class="ax">25.00%</text>
<text x="108" y="379.50" text-anchor="end" class="ax">50.00%</text>
<text x="108" y="242.85" text-anchor="end" class="ax">75.00%</text>
<text x="108" y="106.20" text-anchor="end" class="ax">100.00%</text>
<text transform="translate(123.60,657) rotate(-90)" text-anchor="end" class="ax">W1</text>
<text transform="translate(145.88,657) rotate(-90)" text-anchor="end" class="ax">W2</text>
<text transform="translate(168.15,657) rotate(-90)" text-anchor="end" class="ax">W3</text>
<text transform="translate(190.43,657) rotate(-90)" text-anchor="end" class="ax">W4</text>
<text transform="translate(212.70,657) rotate(-90)" text-anchor="end" class="ax">W5</text>
<text transform="translate(234.97,657) rotate(-90)" text-anchor="end" class="ax">W6</text>
<text transform="translate(257.25,657) rotate(-90)" text-anchor="end" class="ax">W7</text>
<text transform="translate(279.52,657) rotate(-90)" text-anchor="end" class="ax">W8</text>
<text transform="translate(301.80,657) rotate(-90)" text-anchor="end" class="ax">W9</text>
<text transform="translate(324.07,657) rotate(-90)" text-anchor="end" class="ax">W10</text>
<text transform="translate(346.35,657) rotate(-90)" text-anchor="end" class="ax">W11</text>
<text transform="translate(368.62,657) rotate(-90)" text-anchor="end" class="ax">W12</text>
<text transform="translate(390.90,657) rotate(-90)" text-anchor="end" class="ax">W13</text>
<text transform="translate(413.17,657) rotate(-90)" text-anchor="end" class="ax">W14</text>
<text transform="translate(435.45,657) rotate(-90)" text-anchor="end" class="ax">W15</text>
<text transform="translate(457.72,657) rotate(-90)" text-anchor="end" class="ax">W16</text>
<text transform="translate(480.00,657) rotate(-90)" text-anchor="end" class="ax">W17</text>
<text transform="translate(502.27,657) rotate(-90)" text-anchor="end" class="ax">W18</text>
<text transform="translate(524.55,657) rotate(-90)" text-anchor="end" class="ax">W19</text>
<text transform="translate(546.83,657) rotate(-90)" text-anchor="end" class="ax">W20</text>
<text transform="translate(569.10,657) rotate(-90)" text-anchor="end" class="ax">W21</text>
<text transform="translate(591.38,657) rotate(-90)" text-anchor="end" class="ax">W22</text>
<text transform="translate(613.65,657) rotate(-90)" text-anchor="end" class="ax">W23</text>
<text transform="translate(635.93,657) rotate(-90)" text-anchor="end" class="ax">W24</text>
<text transform="translate(658.20,657) rotate(-90)" text-anchor="end" class="ax">W25</text>
<text transform="translate(680.48,657) rotate(-90)" text-anchor="end" class="ax">W26</text>
<text transform="translate(702.75,657) rotate(-90)" text-anchor="end" class="ax">W27</text>
<text transform="translate(725.02,657) rotate(-90)" text-anchor="end" class="ax">W28</text>
<text transform="translate(747.30,657) rotate(-90)" text-anchor="end" class="ax">W29</text>
<text transform="translate(769.58,657) rotate(-90)" text-anchor="end" class="ax">W30</text>
<text transform="translate(791.85,657) rotate(-90)" text-anchor="end" class="ax">W31</text>
<text transform="translate(814.12,657) rotate(-90)" text-anchor="end" class="ax">W32</text>
<text transform="translate(836.40,657) rotate(-90)" text-anchor="end" class="ax">W33</text>
<text transform="translate(858.68,657) rotate(-90)" text-anchor="end" class="ax">W34</text>
<text transform="translate(880.95,657) rotate(-90)" text-anchor="end" class="ax">W35</text>
<text transform="translate(903.23,657) rotate(-90)" text-anchor="end" class="ax">W36</text>
<text transform="translate(925.50,657) rotate(-90)" text-anchor="end" class="ax">W37</text>
<text transform="translate(947.77,657) rotate(-90)" text-anchor="end" class="ax">W38</text>
<text transform="translate(970.05,657) rotate(-90)" text-anchor="end" class="ax">W39</text>
<text transform="translate(992.33,657) rotate(-90)" text-anchor="end" class="ax">W40</text>
<text transform="translate(1014.60,657) rotate(-90)" text-anchor="end" class="ax">W41</text>
<text transform="translate(1036.88,657) rotate(-90)" text-anchor="end" class="ax">W42</text>
<text transform="translate(1059.15,657) rotate(-90)" text-anchor="end" class="ax">W43</text>
<text transform="translate(1081.43,657) rotate(-90)" text-anchor="end" class="ax">W44</text>
<text transform="translate(1103.70,657) rotate(-90)" text-anchor="end" class="ax">W45</text>
<text transform="translate(1125.98,657) rotate(-90)" text-anchor="end" class="ax">W46</text>
<text transform="translate(1148.25,657) rotate(-90)" text-anchor="end" class="ax">W47</text>
<text transform="translate(1170.53,657) rotate(-90)" text-anchor="end" class="ax">W48</text>
<text transform="translate(1192.80,657) rotate(-90)" text-anchor="end" class="ax">W49</text>
<text transform="translate(1215.08,657) rotate(-90)" text-anchor="end" class="ax">W50</text>
<text transform="translate(1237.35,657) rotate(-90)" text-anchor="end" class="ax">W51</text>
<text transform="translate(1259.63,657) rotate(-90)" text-anchor="end" class="ax">W52</text>
<text transform="translate(1281.90,657) rotate(-90)" text-anchor="end" class="ax">W53</text>
<text transform="translate(1304.18,657) rotate(-90)" text-anchor="end" class="ax">W54</text>
<text transform="translate(1326.45,657) rotate(-90)" text-anchor="end" class="ax">W55</text>
<text transform="translate(1348.73,657) rotate(-90)" text-anchor="end" class="ax">W56</text>
<text transform="translate(1371.00,657) rotate(-90)" text-anchor="end" class="ax">W57</text>
<text transform="translate(1393.28,657) rotate(-90)" text-anchor="end" class="ax">W58</text>
<text transform="translate(1415.55,657) rotate(-90)" text-anchor="end" class="ax">W59</text>
<text transform="translate(1437.83,657) rotate(-90)" text-anchor="end" class="ax">W60</text>
<text transform="translate(1460.10,657) rotate(-90)" text-anchor="end" class="ax">W61</text>
<text transform="translate(1482.38,657) rotate(-90)" text-anchor="end" class="ax">W62</text>
<text transform="translate(1504.65,657) rotate(-90)" text-anchor="end" class="ax">W63</text>
<text transform="translate(1526.93,657) rotate(-90)" text-anchor="end" class="ax">W64</text>
<text transform="translate(1549.20,657) rotate(-90)" text-anchor="end" class="ax">W65</text>
<text transform="translate(1571.48,657) rotate(-90)" text-anchor="end" class="ax">W66</text>
<text transform="translate(1593.75,657) rotate(-90)" text-anchor="end" class="ax">W67</text>
<text transform="translate(1616.03,657) rotate(-90)" text-anchor="end" class="ax">W68</text>
<text transform="translate(1638.30,657) rotate(-90)" text-anchor="end" class="ax">W69</text>
<text transform="translate(1660.58,657) rotate(-90)" text-anchor="end" class="ax">W70</text>
<text transform="translate(1682.85,657) rotate(-90)" text-anchor="end" class="ax">W71</text>
<text transform="translate(1705.13,657) rotate(-90)" text-anchor="end" class="ax">W72</text>
<text transform="translate(1727.40,657) rotate(-90)" text-anchor="end" class="ax">W73</text>
<text transform="translate(1749.68,657) rotate(-90)" text-anchor="end" class="ax">W74</text>
<text transform="translate(1771.95,657) rotate(-90)" text-anchor="end" class="ax">W75</text>
<text transform="translate(1794.23,657) rotate(-90)" text-anchor="end" class="ax">W76</text>
<text transform="translate(1816.50,657) rotate(-90)" text-anchor="end" class="ax">W77</text>
<text transform="translate(1838.78,657) rotate(-90)" text-anchor="end" class="ax">W78</text>
<text transform="translate(1861.05,657) rotate(-90)" text-anchor="end" class="ax">W79</text>
<text transform="translate(1883.33,657) rotate(-90)" text-anchor="end" class="ax">W80</text>
<text transform="translate(1905.60,657) rotate(-90)" text-anchor="end" class="ax">W81</text>
<rect x="1940" y="89.95" width="19.5" height="19.5" rx="2.5" fill="#82bf8e"/>
<text x="1973" y="105.90" class="lg">Public</text>
<rect x="1940" y="125.05" width="19.5" height="19.5" rx="2.5" fill="#f6d46c"/>
<text x="1973" y="141.00" class="lg">Private 2</text>
<rect x="1940" y="160.15" width="19.5" height="19.5" rx="2.5" fill="#e17f77"/>
<text x="1973" y="176.10" class="lg">Private 1</text>
<rect x="1940" y="195.25" width="19.5" height="19.5" rx="2.5" fill="#87a8f3"/>
<text x="1973" y="211.20" class="lg">Seed</text>
<rect x="1940" y="230.35" width="19.5" height="19.5" rx="2.5" fill="#67bac4"/>
<text x="1973" y="246.30" class="lg">Strategic</text>
<rect x="1940" y="265.45" width="19.5" height="19.5" rx="2.5" fill="#ec7a32"/>
<text x="1973" y="281.40" class="lg">Advisors</text>
<rect x="1940" y="300.55" width="19.5" height="19.5" rx="2.5" fill="#56a561"/>
<text x="1973" y="316.50" class="lg">Team</text>
<rect x="1940" y="335.65" width="19.5" height="19.5" rx="2.5" fill="#f2bf42"/>
<text x="1973" y="351.60" class="lg">Marketing</text>
<rect x="1940" y="370.75" width="19.5" height="19.5" rx="2.5" fill="#d8503f"/>
<text x="1973" y="386.70" class="lg">Reserve</text>
<rect x="1940" y="405.85" width="19.5" height="19.5" rx="2.5" fill="#4f84ea"/>
<text x="1973" y="421.80" class="lg">Reward / P2E</text>
</svg>
</body></html>
